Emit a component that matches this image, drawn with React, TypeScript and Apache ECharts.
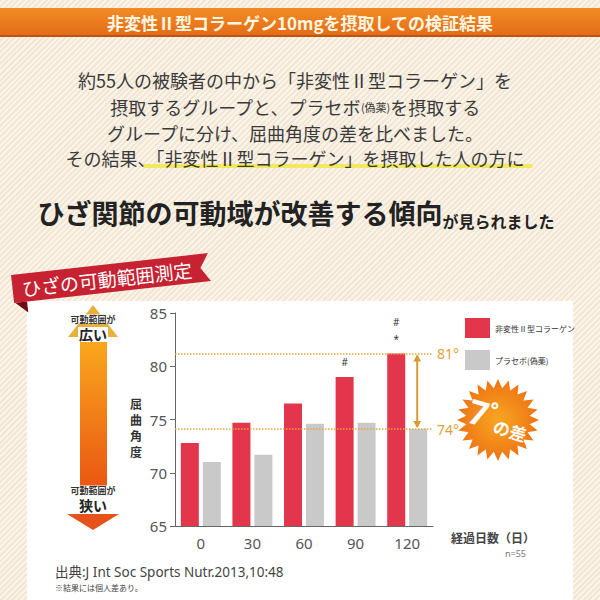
import React, { useEffect, useRef } from 'react';
import * as echarts from 'echarts';

// ---- data ----
const days = ['0', '30', '60', '90', '120'];
const collagen = [72.8, 74.7, 76.5, 79.0, 81.2];
const placebo = [71.0, 71.7, 74.6, 74.7, 74.1];
const marks = ['', '', '', '#', '#\n*'];
const seriesNames = ['非変性Ⅱ型コラーゲン', 'プラセボ(偽薬)'];
const yMin = 65;
const yMax = 85;
const yInterval = 5;

// ---- texts ----
const headerText = '非変性Ⅱ型コラーゲン10mgを摂取しての検証結果';
const bodyLines = [
  '約55人の被験者の中から「非変性Ⅱ型コラーゲン」を',
  '摂取するグループと、プラセボ{s|(偽薬)}を摂取する',
  'グループに分け、屈曲角度の差を比べました。',
  'その結果、「非変性Ⅱ型コラーゲン」を摂取した人の方に',
];
const headline = ['ひざ関節の可動域が改善する傾向', 'が見られました'];
const bannerText = 'ひざの可動範囲測定';
const rangeLabel = '可動範囲が';
const wideLabel = '広い';
const narrowLabel = '狭い';
const yName = '屈曲角度';
const xName = '経過日数（日）';
const nText = 'n=55';
const sourceText = '出典:J Int Soc Sports Nutr.2013,10:48';
const noteText = '※結果には個人差あり。';
const burstText = ['7', '°', 'の差'];

const JP = '"Noto Sans CJK JP", "Noto Sans", sans-serif';
const LAT = '"Noto Sans", "Noto Sans CJK JP", sans-serif';

function starPoints(cx: number, cy: number, ro: number, ri: number, n: number) {
  const pts: number[][] = [];
  for (let i = 0; i < n * 2; i++) {
    const r = i % 2 === 0 ? ro : ri;
    const a = (Math.PI * i) / n - Math.PI / 2;
    pts.push([cx + r * Math.cos(a), cy + r * Math.sin(a)]);
  }
  return pts;
}

function staticGraphics(): any[] {
  const els: any[] = [];
  // header band
  els.push({
    type: 'rect', shape: { x: 0, y: 8, width: 600, height: 28 },
    style: { fill: new echarts.graphic.LinearGradient(0, 0, 0, 1, [
      { offset: 0, color: '#f28c26' }, { offset: 1, color: '#e36c17' }]) },
  });
  els.push({ type: 'rect', shape: { x: 0, y: 35, width: 600, height: 2 }, style: { fill: '#b9560f' } });
  els.push({
    type: 'text', x: 300, y: 22,
    style: { text: headerText, align: 'center', verticalAlign: 'middle', fill: '#fff6e2', font: `bold 17px ${JP}` },
  });
  // body lines
  const ys = [80, 107, 133];
  ys.forEach((y, i) => {
    els.push({
      type: 'text', x: 295, y,
      style: {
        text: bodyLines[i], align: 'center', verticalAlign: 'middle', fill: '#3a3a3a', font: `18px ${JP}`,
        rich: { s: { fontSize: 11, fontFamily: JP, fill: '#3a3a3a' } },
      },
    });
  });
  // highlight underline
  els.push({ type: 'rect', shape: { x: 143, y: 164, width: 390, height: 4, r: 2 }, style: { fill: '#f1e84a', opacity: 0.85 } });
  els.push({
    type: 'text', x: 295, y: 158,
    style: { text: bodyLines[3], align: 'center', verticalAlign: 'middle', fill: '#3a3a3a', font: `18px ${JP}` },
  });
  // headline
  els.push({
    type: 'text', x: 296, y: 212,
    style: {
      text: `{a|${headline[0]}}{b|${headline[1]}}`, align: 'center', verticalAlign: 'middle',
      rich: {
        a: { fontSize: 27, fontWeight: 'bold', fontFamily: JP, fill: '#222', lineHeight: 34 },
        b: { fontSize: 16, fontWeight: 'bold', fontFamily: JP, fill: '#222', verticalAlign: 'bottom', lineHeight: 26 },
      },
    },
  });
  // white panel
  els.push({ type: 'rect', shape: { x: 27, y: 301, width: 546, height: 299 }, style: { fill: '#ffffff' } });
  // banner
  els.push({
    type: 'group', x: 111, y: 278, rotation: 0.111,
    children: [
      { type: 'polygon', shape: { points: [[-98, 14], [-86, 14], [-86, 25]] }, style: { fill: '#6c0d16' } },
      { type: 'polygon', shape: { points: [[-99, -14], [99, -14], [90, 0], [99, 14], [-99, 14]] }, style: { fill: '#c62232' } },
      { type: 'text', x: -4, y: 0, style: { text: bannerText, align: 'center', verticalAlign: 'middle', fill: '#fff', font: `19px ${JP}` } },
    ],
  });
  // left arrow
  els.push({ type: 'polygon', shape: { points: [[93, 305], [118, 337], [68, 337]] }, style: { fill: '#e8b13c' } });
  els.push({
    type: 'rect', shape: { x: 80, y: 342, width: 27, height: 151 },
    style: { fill: new echarts.graphic.LinearGradient(0, 0, 0, 1, [
      { offset: 0, color: '#f9a71d' }, { offset: 1, color: '#e95312' }]) },
  });
  els.push({ type: 'polygon', shape: { points: [[67, 514], [119, 514], [93, 530]] }, style: { fill: '#e5531b' } });
  els.push({
    type: 'text', x: 93, y: 319,
    style: { text: rangeLabel, align: 'center', verticalAlign: 'middle', fill: '#333', font: `bold 9px ${JP}`, backgroundColor: '#fff', padding: [0, 1] },
  });
  els.push({
    type: 'text', x: 93, y: 334,
    style: { text: wideLabel, align: 'center', verticalAlign: 'middle', fill: '#222', font: `bold 14px ${JP}`, backgroundColor: '#fff', padding: [0, 1] },
  });
  els.push({
    type: 'text', x: 93, y: 490,
    style: { text: rangeLabel, align: 'center', verticalAlign: 'middle', fill: '#333', font: `bold 9px ${JP}`, backgroundColor: '#fff', padding: [0, 1] },
  });
  els.push({
    type: 'text', x: 93, y: 505,
    style: { text: narrowLabel, align: 'center', verticalAlign: 'middle', fill: '#222', font: `bold 14px ${JP}` },
  });
  // y name
  els.push({
    type: 'text', x: 136, y: 427,
    style: { text: yName.split('').join('\n'), align: 'center', verticalAlign: 'middle', fill: '#333', font: `bold 12px ${JP}`, lineHeight: 16 },
  });
  // x name, n
  els.push({ type: 'text', x: 451, y: 537, style: { text: xName, align: 'left', verticalAlign: 'middle', fill: '#444', font: `bold 12px ${JP}` } });
  els.push({ type: 'text', x: 526, y: 553, style: { text: nText, align: 'right', verticalAlign: 'middle', fill: '#777', font: `9px ${LAT}` } });
  // starburst
  els.push({
    type: 'polygon', shape: { points: starPoints(498, 420, 41, 32, 24) },
    style: { fill: new echarts.graphic.RadialGradient(0.5, 0.5, 0.6, [
      { offset: 0, color: '#f9a622' }, { offset: 1, color: '#eb6a12' }]) },
  });
  els.push({
    type: 'text', x: 499, y: 418, rotation: -0.28,
    style: {
      text: `{a|${burstText[0]}}{b|${burstText[1]}}{c|${burstText[2]}}`, align: 'center', verticalAlign: 'middle',
      rich: {
        a: { fontSize: 34, fontWeight: 'bold', fontFamily: LAT, fill: '#fff' },
        b: { fontSize: 20, fontWeight: 'bold', fontFamily: LAT, fill: '#fff', verticalAlign: 'top' },
        c: { fontSize: 17, fontWeight: 'bold', fontFamily: JP, fill: '#fff', verticalAlign: 'bottom' },
      },
    },
  });
  // footer
  els.push({ type: 'text', x: 55, y: 572, style: { text: sourceText, align: 'left', verticalAlign: 'middle', fill: '#444', font: `13.5px ${LAT}` } });
  els.push({ type: 'text', x: 55, y: 587, style: { text: noteText, align: 'left', verticalAlign: 'middle', fill: '#444', font: `8px ${JP}` } });
  return els;
}

export default function App() {
  const ref = useRef<HTMLDivElement>(null);
  useEffect(() => {
    if (!ref.current) return;
    const chart = echarts.init(ref.current, null, { renderer: 'svg' });
    const barWidth = 18;
    const option: any = {
      animation: false,
      backgroundColor: 'transparent',
      grid: { left: 175, top: 313, width: 258, height: 213 },
      legend: {
        orient: 'vertical', left: 460, top: 313, itemWidth: 25, itemHeight: 20, itemGap: 12, icon: 'rect',
        selectedMode: false, data: seriesNames,
        textStyle: { fontSize: 8, color: '#333', fontFamily: JP },
      },
      xAxis: {
        type: 'category', data: days,
        axisLine: { lineStyle: { color: '#666', width: 1 } },
        axisTick: { inside: true, length: 5, lineStyle: { color: '#666' } },
        axisLabel: { fontSize: 15, color: '#555', margin: 9, fontFamily: LAT },
      },
      yAxis: {
        type: 'value', min: yMin, max: yMax, interval: yInterval,
        axisLine: { show: true, lineStyle: { color: '#666', width: 1 } },
        axisTick: { show: true, length: 5, lineStyle: { color: '#666' } },
        splitLine: { show: false },
        axisLabel: { fontSize: 15, color: '#555', margin: 8, fontFamily: LAT },
      },
      series: [
        {
          name: seriesNames[0], type: 'bar', barWidth, barGap: '22%',
          itemStyle: { color: '#e3354b' },
          label: { show: false, position: 'top', distance: 6, fontSize: 10, lineHeight: 17, color: '#333', fontFamily: LAT },
          data: collagen.map((v, i) => (marks[i] ? { value: v, label: { show: true, formatter: marks[i] } } : v)),
          markLine: {
            silent: true, symbol: 'none',
            lineStyle: { type: 'dotted', color: '#e6a63c', width: 1.5 },
            label: { position: 'end', color: '#e2a23a', fontSize: 14, distance: 4, fontFamily: LAT },
            data: [
              { yAxis: collagen[4], label: { formatter: `${Math.round(collagen[4])}°` } },
              { yAxis: placebo[4], label: { formatter: `${Math.round(placebo[4])}°` } },
            ],
          },
        },
        {
          name: seriesNames[1], type: 'bar', barWidth,
          itemStyle: { color: '#c9c9c9' },
          data: placebo,
        },
      ],
    };
    chart.setOption(option);
    const xc = (chart.convertToPixel({ xAxisIndex: 0 }, days[4]) as number) + 10;
    const y1 = chart.convertToPixel({ yAxisIndex: 0 }, collagen[4]) as number;
    const y2 = chart.convertToPixel({ yAxisIndex: 0 }, placebo[4]) as number;
    const arrowColor = '#d69b34';
    const arrow = [
      { type: 'line', shape: { x1: xc, y1: y1 + 2, x2: xc, y2: y2 - 2 }, style: { stroke: arrowColor, lineWidth: 2 }, z: 10 },
      { type: 'polygon', shape: { points: [[xc, y1 + 1], [xc + 4, y1 + 8], [xc - 4, y1 + 8]] }, style: { fill: arrowColor }, z: 10 },
      { type: 'polygon', shape: { points: [[xc, y2 - 1], [xc + 4, y2 - 8], [xc - 4, y2 - 8]] }, style: { fill: arrowColor }, z: 10 },
    ];
    chart.setOption({ graphic: [{ elements: [...staticGraphics(), ...arrow] }] });
    return () => chart.dispose();
  }, []);
  return (
    <div
      style={{
        position: 'absolute', left: 0, top: 0, width: 600, height: 600,
        background: 'repeating-linear-gradient(135deg, #f3e7d4 0px, #f3e7d4 2px, #faf4ea 2px, #faf4ea 4px)',
      }}
    >
      <div ref={ref} style={{ width: 600, height: 600 }} />
    </div>
  );
}
